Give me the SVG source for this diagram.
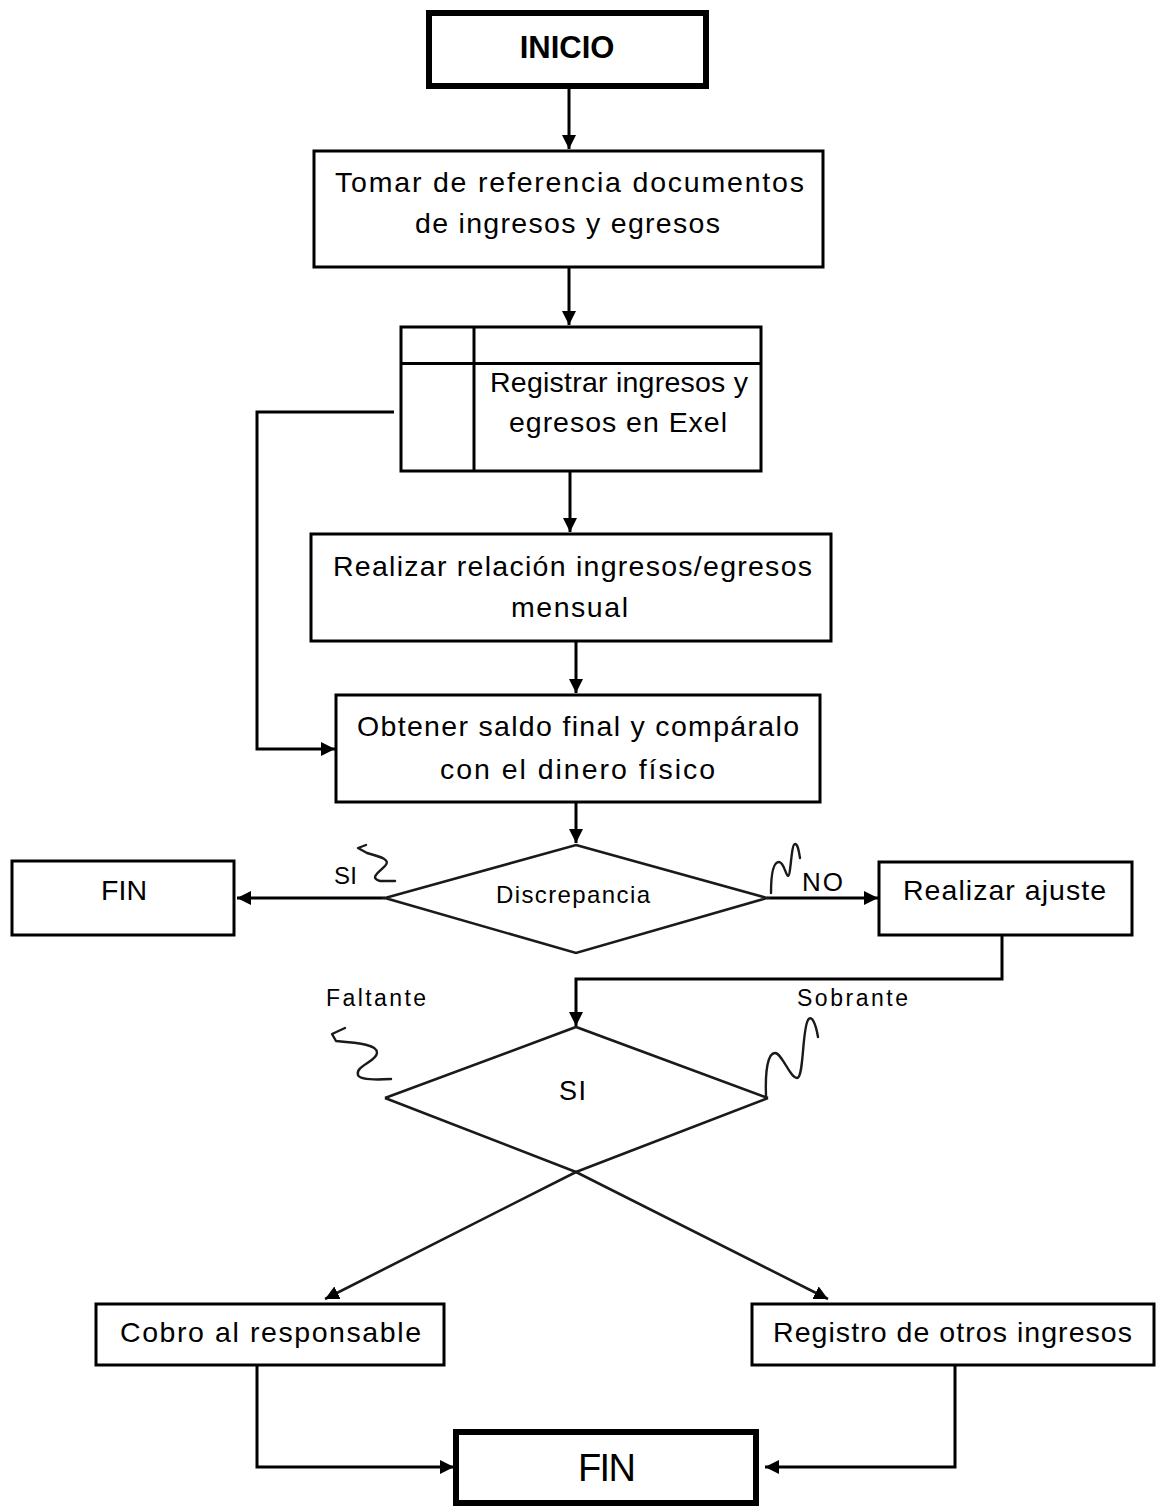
<svg xmlns="http://www.w3.org/2000/svg" width="1156" height="1506" viewBox="0 0 1156 1506">
  <style>
    .box { fill: #ffffff; stroke: #000000; stroke-width: 3; }
    .thick { fill: #ffffff; stroke: #000000; stroke-width: 6; }
    .dia { fill: none; stroke: #1a1a1a; stroke-width: 2.6; stroke-linejoin: miter; }
    .wire { fill: none; stroke: #000000; stroke-width: 3; }
    .xline { fill: none; stroke: #1a1a1a; stroke-width: 2.6; }
    .squig { fill: none; stroke: #1a1a1a; stroke-width: 2.4; stroke-linecap: round; stroke-linejoin: round; }
    text { font-family: "Liberation Sans", Arial, sans-serif; fill: #000000; }
    .t { font-size: 28.5px; }
    .s { font-size: 23px; }
  </style>
  <defs>
    <marker id="arrow" markerUnits="userSpaceOnUse" markerWidth="16" markerHeight="16" refX="14" refY="7" orient="auto">
      <path d="M0,0 L14,7 L0,14 Z" fill="#000000"/>
    </marker>
  </defs>

  <rect x="0" y="0" width="1156" height="1506" fill="#ffffff"/>

  <!-- connectors -->
  <g id="connectors">
    <path class="wire" d="M569,89 L569,149" marker-end="url(#arrow)"/>
    <path class="wire" d="M569,267 L569,325" marker-end="url(#arrow)"/>
    <path class="wire" d="M570,472 L570,532" marker-end="url(#arrow)"/>
    <path class="wire" d="M576,641 L576,693" marker-end="url(#arrow)"/>
    <path class="wire" d="M394,412 L257,412 L257,749 L335,749" marker-end="url(#arrow)"/>
    <path class="wire" d="M576,802 L576,843" marker-end="url(#arrow)"/>
    <path class="wire" d="M385,898 L237,898" marker-end="url(#arrow)"/>
    <path class="wire" d="M767,898 L878,898" marker-end="url(#arrow)"/>
    <path class="wire" d="M1002,936 L1002,979 L576,979 L576,1026" marker-end="url(#arrow)"/>
    <path class="xline" d="M385,1098 L576,1172 L828,1299" marker-end="url(#arrow)"/>
    <path class="xline" d="M768,1098 L576,1172 L325,1299" marker-end="url(#arrow)"/>
    <path class="wire" d="M257,1365 L257,1467 L454,1467" marker-end="url(#arrow)"/>
    <path class="wire" d="M955,1365 L955,1467 L765,1467" marker-end="url(#arrow)"/>
  </g>

  <!-- start -->
  <g id="inicio">
    <rect class="thick" x="429" y="13" width="277" height="73"/>
    <text x="567" y="58" font-size="31" font-weight="bold" text-anchor="middle">INICIO</text>
  </g>

  <g id="tomar-referencia">
    <rect class="box" x="314" y="151" width="509" height="116"/>
    <text class="t" x="335" y="192" textLength="469" lengthAdjust="spacing">Tomar de referencia documentos</text>
    <text class="t" x="415" y="233" textLength="305" lengthAdjust="spacing">de ingresos y egresos</text>
  </g>

  <g id="registrar-excel">
    <rect class="box" x="401" y="327" width="360" height="144"/>
    <line class="box" x1="401" y1="363.5" x2="761" y2="363.5"/>
    <line class="box" x1="474" y1="327" x2="474" y2="471"/>
    <text class="t" x="490" y="392" textLength="258" lengthAdjust="spacing">Registrar ingresos y</text>
    <text class="t" x="509" y="432" textLength="218" lengthAdjust="spacing">egresos en Exel</text>
  </g>

  <g id="relacion-mensual">
    <rect class="box" x="311" y="534" width="520" height="107"/>
    <text class="t" x="333" y="576" textLength="479" lengthAdjust="spacing">Realizar relación ingresos/egresos</text>
    <text class="t" x="511" y="617" textLength="117" lengthAdjust="spacing">mensual</text>
  </g>

  <g id="saldo-final">
    <rect class="box" x="336" y="695" width="484" height="107"/>
    <text class="t" x="357" y="736" textLength="442" lengthAdjust="spacing">Obtener saldo final y compáralo</text>
    <text class="t" x="440" y="779" textLength="275" lengthAdjust="spacing">con el dinero físico</text>
  </g>

  <g id="discrepancia">
    <polygon class="dia" fill="#ffffff" points="576,845 767,898 576,953 385,898"/>
    <text x="496" y="903" font-size="24" textLength="154" lengthAdjust="spacing">Discrepancia</text>
  </g>

  <g id="fin-si">
    <rect class="box" x="12" y="861" width="222" height="74"/>
    <text class="t" x="101" y="900" textLength="46" lengthAdjust="spacing">FIN</text>
  </g>

  <g id="realizar-ajuste">
    <rect class="box" x="879" y="862" width="253" height="73"/>
    <text class="t" x="903" y="900" textLength="203" lengthAdjust="spacing">Realizar ajuste</text>
  </g>

  <!-- branch labels with their squiggle leaders -->
  <g id="label-si">
    <text x="334" y="884" font-size="24" textLength="23" lengthAdjust="spacing">SI</text>
    <path class="squig" d="M366,845 L358,848 L367,853 C382,857 391,860 385,866 C379,872 369,878 380,881 L395,881"/>
  </g>
  <g id="label-no">
    <text x="802" y="891" font-size="26" textLength="41" lengthAdjust="spacing">NO</text>
    <path class="squig" d="M771,893 C771,870 774,862 779,862 C784,862 786,876 788,876 C791,876 791,844 795,844 C798,844 799,852 800,858"/>
  </g>

  <g id="tipo-diferencia">
    <polyline class="dia" points="385,1098 576,1027 768,1098"/>
    <text x="559" y="1100" font-size="27" textLength="27" lengthAdjust="spacing">SI</text>
  </g>

  <g id="label-faltante">
    <text class="s" x="326" y="1006" textLength="100" lengthAdjust="spacing">Faltante</text>
    <path class="squig" d="M345,1028 L332,1034 L336,1041 C360,1043 378,1045 377,1053 C376,1062 355,1066 358,1075 C360,1080 375,1080 391,1079"/>
  </g>
  <g id="label-sobrante">
    <text class="s" x="797" y="1006" textLength="111" lengthAdjust="spacing">Sobrante</text>
    <path class="squig" d="M766,1096 C765,1070 768,1053 775,1053 C782,1053 790,1078 797,1078 C804,1078 802,1030 808,1020 C812,1014 816,1025 818,1037"/>
  </g>

  <g id="cobro-responsable">
    <rect class="box" x="96" y="1304" width="348" height="61"/>
    <text class="t" x="120" y="1342" textLength="301" lengthAdjust="spacing">Cobro al responsable</text>
  </g>

  <g id="registro-otros">
    <rect class="box" x="752" y="1304" width="402" height="61"/>
    <text class="t" x="773" y="1342" textLength="359" lengthAdjust="spacing">Registro de otros ingresos</text>
  </g>

  <g id="fin">
    <rect class="thick" x="456" y="1432" width="300" height="71"/>
    <text x="578" y="1481" font-size="38" textLength="58" lengthAdjust="spacing">FIN</text>
  </g>
</svg>
